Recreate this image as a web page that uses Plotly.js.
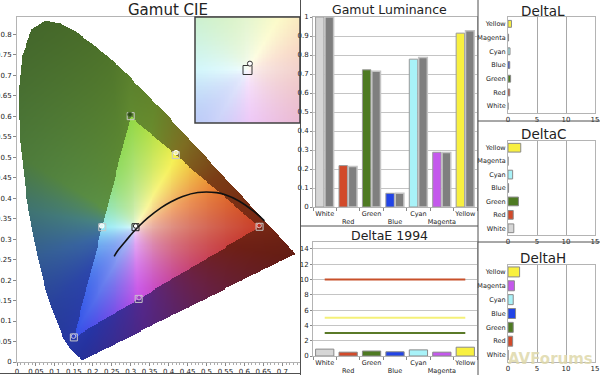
<!DOCTYPE html>
<html><head><meta charset="utf-8">
<script src="https://cdn.plot.ly/plotly-3.0.1.min.js"></script>
<style>html,body{margin:0;padding:0;background:#fff}#chart{width:600px;height:375px}</style>
</head><body><div id="chart"></div>
<script>
// ---- data ----
const locusX = [0.1741,0.1733,0.1714,0.1689,0.1644,0.1566,0.1440,0.1355,0.1241,0.1096,0.0913,0.0687,0.0454,0.0235,0.0082,0.0039,0.0139,0.0389,0.0743,0.1142,0.1547,0.1929,0.2296,0.2658,0.3016,0.3373,0.3731,0.4087,0.4441,0.4788,0.5125,0.5448,0.5752,0.6029,0.6270,0.6658,0.6915,0.7079,0.7190,0.7260,0.7300,0.7347];
const locusY = [0.0050,0.0048,0.0051,0.0069,0.0109,0.0177,0.0297,0.0399,0.0578,0.0868,0.1327,0.2007,0.2950,0.4127,0.5384,0.6548,0.7502,0.8120,0.8338,0.8262,0.8059,0.7816,0.7543,0.7243,0.6923,0.6589,0.6245,0.5896,0.5547,0.5202,0.4866,0.4544,0.4242,0.3965,0.3725,0.3340,0.3083,0.2920,0.2809,0.2740,0.2700,0.2653];
const gamutX = [0.64, 0.30, 0.15];
const gamutY = [0.33, 0.60, 0.06];
const whitePoint = [0.3127, 0.329];
const cieNames = ['Red','Green','Blue','Cyan','Magenta','Yellow','White'];
const targetX = [0.640, 0.300, 0.150, 0.225, 0.321, 0.419, 0.3127];
const targetY = [0.330, 0.600, 0.060, 0.329, 0.154, 0.505, 0.329];
const measuredX = [0.639, 0.298, 0.149, 0.2235, 0.322, 0.4195, 0.313];
const measuredY = [0.333, 0.604, 0.063, 0.332, 0.157, 0.511, 0.332];
const planckX = [0.2565,0.2637,0.2807,0.2952,0.3064,0.3221,0.3451,0.3805,0.4053,0.4369,0.4770,0.5267,0.5497,0.5857,0.6251,0.6528];
const planckY = [0.2577,0.2690,0.2884,0.3048,0.3166,0.3318,0.3516,0.3768,0.3907,0.4041,0.4137,0.4133,0.4081,0.3931,0.3674,0.3444];

const patchNames = ['White','Red','Green','Blue','Cyan','Magenta','Yellow'];
const lumMeasured = [1.0, 0.218, 0.722, 0.072, 0.778, 0.288, 0.915];
const lumTarget   = [1.0, 0.213, 0.715, 0.072, 0.787, 0.287, 0.928];
const deltaE = [0.9, 0.5, 0.65, 0.55, 0.8, 0.5, 1.15];
const deltaEThresholds = [10, 5, 3];
const deltaL = [0, 0.3, 0.45, 0.3, 0.35, 0.1, 0.6];
const deltaC = [1.0, 0.9, 1.8, 0.1, 0.8, 0, 2.2];
const deltaH = [0, 0.8, 0.9, 1.3, 0.9, 1.1, 2.0];

// ---- styles ----
const patchColors = ['#d6d6d6','#d24a2a','#4e7a22','#2244e6','#a8f2f8','#c458ec','#f8f040'];
const thresholdColors = ['#c8502a','#f4f078','#5a7a28'];
// inner (in-gamut) colour anchors: chromaticity x, y, r, g, b
const innerAnchors = [
 [0.64,0.33,200,62,40],[0.52,0.42,232,125,50],[0.42,0.505,245,240,80],
 [0.30,0.60,145,215,70],[0.225,0.33,150,235,245],[0.15,0.06,50,80,232],[0.32,0.155,200,80,230]];
// outer (out-of-gamut) colour anchors: angle around white point, r, g, b
const outerAnchors = [
 [5,122,42,20],[30,125,62,22],[58,128,112,35],[80,105,140,45],[100,92,136,50],[150,92,146,70],
 [172,72,132,132],[195,58,104,165],[220,45,72,172],[245,38,52,165],[275,85,40,140],[320,108,34,72],[350,112,32,22]];
const FONT = 'DejaVu Sans';

// ---- colour field for the chromaticity diagram ----
function cross(ax,ay,bx,by){return ax*by-ay*bx;}
function triT(px,py){
  const dx=px-whitePoint[0], dy=py-whitePoint[1];
  if(Math.abs(dx)+Math.abs(dy)<1e-9) return 0;
  let best=Infinity;
  for(let i=0;i<3;i++){
    const ax=gamutX[i], ay=gamutY[i], bx=gamutX[(i+1)%3], by=gamutY[(i+1)%3];
    const ex=bx-ax, ey=by-ay, den=cross(dx,dy,ex,ey);
    if(Math.abs(den)<1e-12) continue;
    const wx=ax-whitePoint[0], wy=ay-whitePoint[1];
    const s=cross(wx,wy,ex,ey)/den, u=cross(wx,wy,dx,dy)/den;
    if(s>0 && u>=-1e-9 && u<=1+1e-9 && s<best) best=s;
  }
  return 1/best;
}
const angOf=(x,y)=>(Math.atan2(y-whitePoint[1],x-whitePoint[0])*180/Math.PI+360)%360;
const ancIn = innerAnchors.map(a=>({ang:angOf(a[0],a[1]),c:[a[2],a[3],a[4]]})).sort((p,q)=>p.ang-q.ang);
const ancOut = outerAnchors.map(a=>({ang:a[0],c:[a[1],a[2],a[3]]})).sort((p,q)=>p.ang-q.ang);
function hueColor(anc,ang){
  for(let i=0;i<anc.length;i++){
    const a=anc[i], b=anc[(i+1)%anc.length];
    let a0=a.ang, a1=b.ang; if(a1<=a0) a1+=360;
    let x=ang; if(x<a0) x+=360;
    if(x>=a0 && x<=a1){const f=(x-a0)/(a1-a0); return [0,1,2].map(k=>a.c[k]+(b.c[k]-a.c[k])*f);}
  }
  return anc[0].c;
}
function chromaColor(x,y,sat){
  const t=triT(x,y);
  const ang=angOf(x,y);
  if(t<=1){const c=hueColor(ancIn,ang); const s=Math.pow(t,0.45)*sat; return c.map(v=>255+(v-255)*s);}
  const c=hueColor(ancOut,ang);
  const dist=Math.hypot(x-whitePoint[0],y-whitePoint[1])*(1-1/t);
  const f=Math.exp(-0.7*dist);
  return c.map(v=>v*f);
}
function inLocus(x,y){
  let inside=false; const n=locusX.length;
  for(let i=0,j=n-1;i<n;j=i++){
    const xi=locusX[i], yi=locusY[i], xj=locusX[j], yj=locusY[j];
    if(((yi>y)!==(yj>y)) && (x < (xj-xi)*(y-yi)/(yj-yi)+xi)) inside=!inside;
  }
  return inside;
}
function buildImage(x0,y0,d,nx,ny,mask,sat){
  const z=[];
  for(let j=0;j<ny;j++){
    const row=[]; const y=y0+j*d;
    for(let i=0;i<nx;i++){
      const x=x0+i*d;
      if(mask && !inLocus(x,y)){row.push([0,0,0,0]);continue;}
      const c=chromaColor(x,y,sat);
      row.push([Math.round(c[0]),Math.round(c[1]),Math.round(c[2]),1]);
    }
    z.push(row);
  }
  return z;
}
const D=0.0025;
const cieImg = buildImage(D/2, D/2, D, 300, 338, true, 1);
const insetHalf=0.05, ID=insetHalf*2/80;
const insetImg = buildImage(whitePoint[0]-insetHalf+ID/2, whitePoint[1]-insetHalf+ID/2, ID, 80, 80, false, 0.55);

// ---- helpers ----
const PX=x=>x/600, PY=y=>1-y/375;
const tickFont={family:FONT,size:7,color:'#222'};
const catFont={family:FONT,size:6.5,color:'#222'};

const traces=[];
traces.push({type:'image',z:cieImg,colormodel:'rgba',x0:D/2,dx:D,y0:D/2,dy:D,xaxis:'x',yaxis:'y',hoverinfo:'skip'});
traces.push({type:'scatter',mode:'lines',x:planckX,y:planckY,line:{color:'#111',width:1.6,shape:'spline'},xaxis:'x',yaxis:'y'});
traces.push({type:'scatter',mode:'markers',x:targetX,y:targetY,marker:{symbol:'square-open',size:7,color:['#c8c8c8','#c8c8c8','#c8c8c8','#c8c8c8','#c8c8c8','#c8c8c8','#222'],line:{width:1}},xaxis:'x',yaxis:'y'});
traces.push({type:'scatter',mode:'markers',x:measuredX,y:measuredY,marker:{symbol:'circle',size:4.5,color:['#c03020','#2e4a18','#3040c0','#e0f8f8','#a040c0','#f0f0a0','#ffffff'],line:{width:1,color:['#e0c0c0','#4a6a30','#c0c0e0','#ffffff','#d0b0e0','#ffffff','#222']}},xaxis:'x',yaxis:'y'});
// inset
traces.push({type:'image',z:insetImg,colormodel:'rgba',x0:whitePoint[0]-insetHalf+ID/2,dx:ID,y0:whitePoint[1]-insetHalf+ID/2,dy:ID,xaxis:'x2',yaxis:'y2',hoverinfo:'skip'});
traces.push({type:'scatter',mode:'markers',x:[targetX[6]],y:[targetY[6]],marker:{symbol:'square-open',size:9,color:'#333',line:{width:1}},xaxis:'x2',yaxis:'y2'});
traces.push({type:'scatter',mode:'markers',x:[measuredX[6]+0.002],y:[measuredY[6]+0.003],marker:{symbol:'circle',size:5,color:'#fff',line:{width:1,color:'#333'}},xaxis:'x2',yaxis:'y2'});
// luminance
traces.push({type:'bar',x:patchNames,y:lumMeasured,offset:-0.39,width:0.36,marker:{color:patchColors,line:{color:'#9a9a9a',width:1}},xaxis:'x3',yaxis:'y3'});
traces.push({type:'bar',x:patchNames,y:lumTarget,offset:0.01,width:0.37,marker:{color:'#7f7f7f',line:{color:'#c4c4c4',width:1.5}},xaxis:'x3',yaxis:'y3'});
// deltaE
deltaEThresholds.forEach((v,k)=>{
  traces.push({type:'scatter',mode:'lines',x:patchNames,y:patchNames.map(()=>v),line:{color:thresholdColors[k],width:2},xaxis:'x4',yaxis:'y4'});
});
traces.push({type:'bar',x:patchNames,y:deltaE,width:0.78,marker:{color:patchColors,line:{color:'#8a8a8a',width:1}},xaxis:'x4',yaxis:'y4'});
// deltaL/C/H
traces.push({type:'bar',orientation:'h',y:patchNames,x:deltaL,width:0.5,marker:{color:patchColors,line:{color:'#8a8a8a',width:1}},xaxis:'x5',yaxis:'y5'});
traces.push({type:'bar',orientation:'h',y:patchNames,x:deltaC,width:0.65,marker:{color:patchColors,line:{color:'#8a8a8a',width:1}},xaxis:'x6',yaxis:'y6'});
traces.push({type:'bar',orientation:'h',y:patchNames,x:deltaH,width:0.72,marker:{color:patchColors,line:{color:'#8a8a8a',width:1}},xaxis:'x7',yaxis:'y7'});

const boxAxis={showline:true,mirror:true,linecolor:'#b4b4b4',linewidth:1,zeroline:false,fixedrange:true};
const lumTicktext = patchNames.map((n,i)=>i%2?'<br>'+n:n);
const catX = {type:'category',range:[-0.5,6.5],tickmode:'array',tickvals:patchNames,ticktext:lumTicktext,tickfont:catFont,tickangle:0,ticks:'outside',tickson:'boundaries',ticklen:3,tickcolor:'#888',showgrid:false};
const layout={
  width:600,height:375,margin:{l:0,r:0,t:0,b:0},paper_bgcolor:'#fff',plot_bgcolor:'rgba(0,0,0,0)',
  showlegend:false,barmode:'overlay',hovermode:false,
  xaxis:Object.assign({},boxAxis,{domain:[PX(17),PX(300)],range:[0,0.7467],anchor:'y',dtick:0.05,tick0:0,tickangle:0,ticks:'outside',ticklen:3,tickcolor:'#888',tickfont:tickFont,showgrid:false,minor:{ticks:'outside',ticklen:2,dtick:0.01,tickcolor:'#aaa'}}),
  yaxis:Object.assign({},boxAxis,{domain:[PY(362),PY(17)],range:[0,0.842],anchor:'x',dtick:0.05,tick0:0,ticks:'outside',ticklen:3,tickcolor:'#888',tickfont:tickFont,showgrid:false,scaleanchor:false,autorange:false}),
  xaxis2:{domain:[PX(195),PX(300)],range:[whitePoint[0]-insetHalf,whitePoint[0]+insetHalf],anchor:'y2',visible:false,fixedrange:true},
  yaxis2:{domain:[PY(123),PY(17)],range:[whitePoint[1]-insetHalf,whitePoint[1]+insetHalf],anchor:'x2',visible:false,scaleanchor:false,autorange:false,fixedrange:true},
  xaxis3:Object.assign({},boxAxis,catX,{domain:[PX(313),PX(477)],anchor:'y3'}),
  yaxis3:Object.assign({},boxAxis,{domain:[PY(207),PY(17)],anchor:'x3',range:[0,1.0],dtick:0.1,tickfont:tickFont,ticks:'outside',ticklen:2,tickcolor:'#888',showgrid:true,gridcolor:'#c4c4c4'}),
  xaxis4:Object.assign({},boxAxis,catX,{domain:[PX(313),PX(477)],anchor:'y4'}),
  yaxis4:Object.assign({},boxAxis,{domain:[PY(356),PY(242)],anchor:'x4',range:[0,14.9],dtick:2,tickfont:tickFont,ticks:'outside',ticklen:2,tickcolor:'#888',showgrid:true,gridcolor:'#c4c4c4'}),
  xaxis5:Object.assign({},boxAxis,{domain:[PX(508),PX(595)],anchor:'y5',range:[0,15],dtick:5,tickangle:0,tickfont:tickFont,showgrid:true,gridcolor:'#a8a8a8'}),
  yaxis5:Object.assign({},boxAxis,{domain:[PY(113),PY(17)],anchor:'x5',type:'category',tickfont:catFont,showgrid:false}),
  xaxis6:Object.assign({},boxAxis,{domain:[PX(508),PX(595)],anchor:'y6',range:[0,15],dtick:5,tickangle:0,tickfont:tickFont,showgrid:true,gridcolor:'#a8a8a8'}),
  yaxis6:Object.assign({},boxAxis,{domain:[PY(235),PY(141)],anchor:'x6',type:'category',tickfont:catFont,showgrid:false}),
  xaxis7:Object.assign({},boxAxis,{domain:[PX(508),PX(595)],anchor:'y7',range:[0,15],dtick:5,tickangle:0,tickfont:tickFont,showgrid:true,gridcolor:'#a8a8a8'}),
  yaxis7:Object.assign({},boxAxis,{domain:[PY(362),PY(265)],anchor:'x7',type:'category',tickfont:catFont,showgrid:false}),
  annotations:[
    {text:'Gamut CIE',x:PX(168),y:PY(10),font:{family:FONT,size:15,color:'#222'}},
    {text:'Gamut Luminance',x:PX(389),y:PY(10),font:{family:FONT,size:12.5,color:'#222'}},
    {text:'DeltaE 1994',x:PX(389),y:PY(235),font:{family:FONT,size:12.5,color:'#222'}},
    {text:'DeltaL',x:PX(543),y:PY(10.5),font:{family:FONT,size:13.5,color:'#222'}},
    {text:'DeltaC',x:PX(543),y:PY(134),font:{family:FONT,size:13.5,color:'#222'}},
    {text:'DeltaH',x:PX(543),y:PY(258),font:{family:FONT,size:13.5,color:'#222'}},
    {text:'<b>AVForums</b>',x:PX(550),y:PY(359),font:{family:FONT,size:15,color:'rgba(222,216,170,0.85)'}}
  ].map(a=>Object.assign({xref:'paper',yref:'paper',showarrow:false,xanchor:'center',yanchor:'middle'},a)),
  shapes:[
    {type:'line',x0:PX(300.5),x1:PX(300.5),y0:PY(0),y1:PY(375)},
    {type:'line',x0:PX(478),x1:PX(478),y0:PY(0),y1:PY(375)},
    {type:'line',x0:PX(300),x1:PX(478),y0:PY(226),y1:PY(226)},
    {type:'line',x0:PX(478),x1:PX(600),y0:PY(121),y1:PY(121)},
    {type:'line',x0:PX(478),x1:PX(600),y0:PY(242),y1:PY(242)},
    {type:'line',x0:PX(0),x1:PX(300),y0:PY(373.5),y1:PY(373.5)},
    {type:'rect',x0:PX(195),x1:PX(300),y0:PY(123),y1:PY(17),line:{color:'#404040',width:1.5}}
  ].map(s=>Object.assign({xref:'paper',yref:'paper',line:{color:'#505050',width:1}},s))
};
Plotly.newPlot('chart',traces,layout,{staticPlot:true,displayModeBar:false});
</script>
</body></html>
